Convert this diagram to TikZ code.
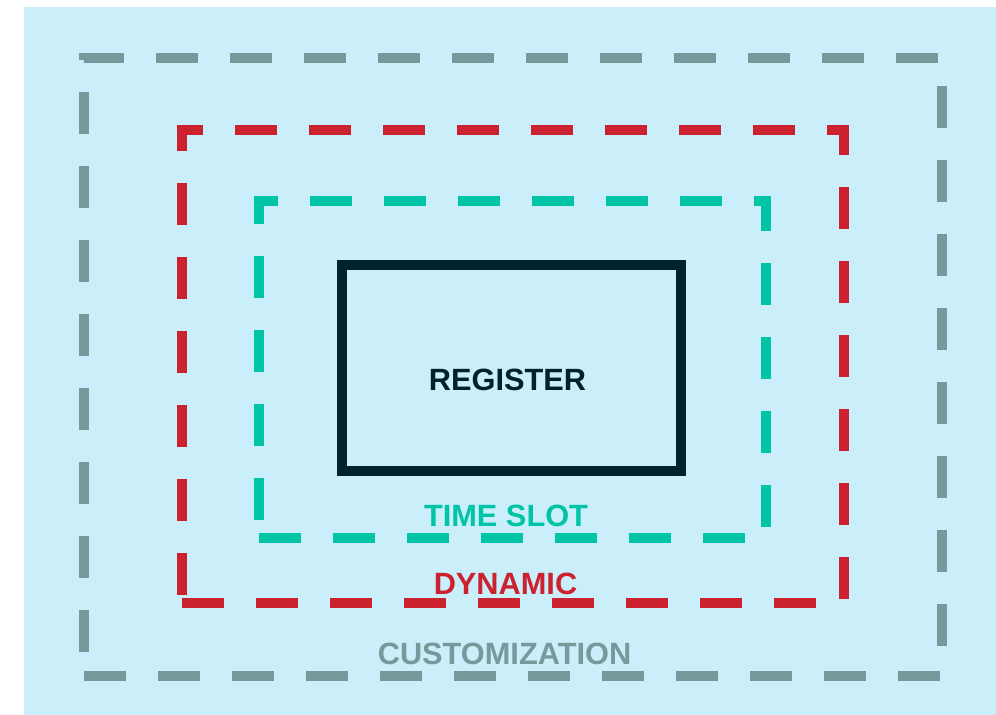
\documentclass[tikz,border=0pt]{standalone}
\usepackage{fontspec}
\setmainfont{Liberation Sans}
\usepackage{xcolor}
\usetikzlibrary{positioning}

\definecolor{bgblue}{HTML}{CAEEFA}
\definecolor{custgray}{HTML}{759A9C}
\definecolor{dynred}{HTML}{CC2230}
\definecolor{slotteal}{HTML}{00C4A6}
\definecolor{regdark}{HTML}{00222E}

\begin{document}
\begin{tikzpicture}[
    ring/.style={draw, rectangle, line width=5.7pt, dash pattern=on 0.84cm off 0.64cm, inner sep=0pt},
    lbl/.style={font=\bfseries\fontsize{17.5}{20}\selectfont, inner sep=0pt}]
    \useasboundingbox (0,0) rectangle (19.92,-14.30);
    \fill[bgblue] (0.48,-0.14) rectangle (19.92,-14.30);

    % nested layers
    \node[ring, draw=custgray, minimum width=17.16cm, minimum height=12.36cm] (cust) at (10.26,-7.34) {};
    \node[ring, draw=dynred, minimum width=13.24cm, minimum height=9.46cm] (dyn) at (10.26,-7.33) {};
    \node[ring, draw=slotteal, minimum width=10.14cm, minimum height=6.74cm] (slot) at (10.25,-7.39) {};
    \node[draw=regdark, rectangle, line width=5.7pt, minimum width=6.78cm, minimum height=4.12cm] (reg) at (10.23,-7.36) {};

    % labels
    \node[lbl, text=regdark] (reglbl) at (10.15,-7.60) {REGISTER};
    \node[lbl, text=slotteal, above=0.32cm of slot.south, xshift=-0.13cm] (slotlbl) {TIME SLOT};
    \node[lbl, text=dynred, above=0.26cm of dyn.south, xshift=-0.15cm] (dynlbl) {DYNAMIC};
    \node[lbl, text=custgray, above=0.32cm of cust.south, xshift=-0.17cm] (custlbl) {CUSTOMIZATION};
\end{tikzpicture}
\end{document}
